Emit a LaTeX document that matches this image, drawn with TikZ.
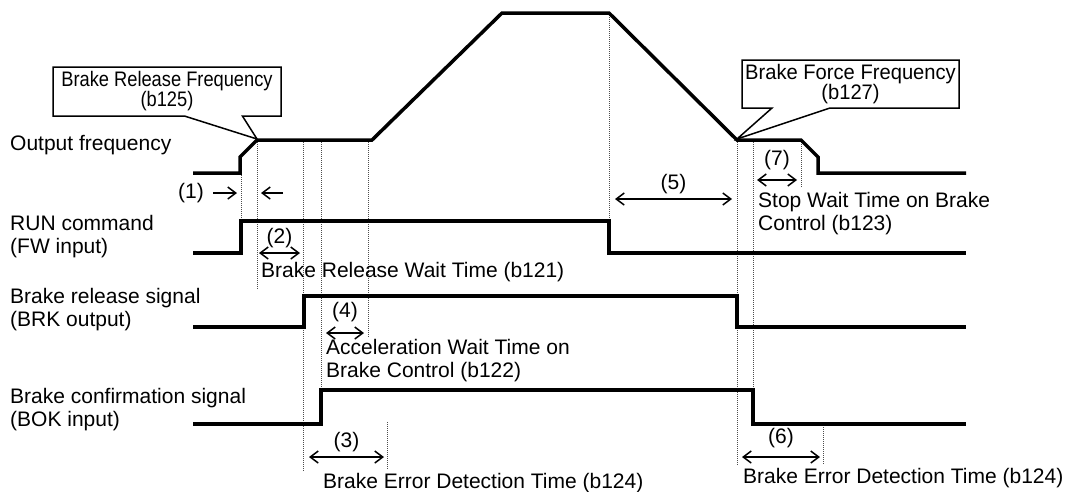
\documentclass[tikz,border=0pt]{standalone}
\usepackage{fontspec}
\setmainfont{Liberation Sans}
\newfontfamily\narrowsf[FakeStretch=0.87]{Liberation Sans}
\newfontfamily\semisf[FakeStretch=0.96]{Liberation Sans}
\usetikzlibrary{arrows.meta,positioning,shapes.callouts}

\begin{document}
\begin{tikzpicture}[
    x=1pt, y=-1pt,
    wave/.style={line width=3.5pt},
    guide/.style={densely dotted, line width=1pt, black!70},
    dim/.style={{Straight Barb[length=8pt,width=12pt]}-{Straight Barb[length=8pt,width=12pt]},
                line width=1.5pt},
    ptr/.style={-{Straight Barb[length=8pt,width=12pt]}, line width=1.5pt},
    txt/.style={font=\fontsize{21}{23}\selectfont, inner sep=0pt, align=left},
    num/.style={font=\fontsize{21}{23}\selectfont, inner sep=1pt},
    note/.style={rectangle callout, draw, line width=1.5pt, fill=white,
                 callout pointer width=58pt, inner sep=0pt, align=center}
]
    \useasboundingbox (0,0) rectangle (1068,491);

    % Callouts
    \node[note, minimum width=228pt, minimum height=49pt,
          font=\narrowsf\fontsize{21}{20}\selectfont,
          callout absolute pointer={(257,139)}] (relfreq) at (167,91.5)
          {Brake Release Frequency\\(b125)};
    \node[note, minimum width=217pt, minimum height=48pt,
          font=\semisf\fontsize{21}{20}\selectfont,
          callout absolute pointer={(737,139)}] (forcefreq) at (850.5,84)
          {Brake Force Frequency\\(b127)};

    % Signal names (base = last line)
    \node[txt, anchor=base west] (lblfreq) at (10,150) {Output frequency};
    \node[txt, anchor=base west] (lblrun) at (10,253) {RUN command\\(FW input)};
    \node[txt, anchor=base west] (lblbrk) at (10,326) {Brake release signal\\(BRK output)};
    \node[txt, anchor=base west] (lblbok) at (10,426) {Brake confirmation signal\\(BOK input)};

    % Timing guides
    \draw[guide] (241,173) -- (241,221);
    \draw[guide] (257,140) -- (257,290);
    \draw[guide] (303,140) -- (303,472);
    \draw[guide] (321,140) -- (321,390);
    \draw[guide] (368,140) -- (368,337);
    \draw[guide] (387,422) -- (387,470);
    \draw[guide] (609,13) -- (609,221);
    \draw[guide] (737,140) -- (737,465);
    \draw[guide] (753,140) -- (753,390);
    \draw[guide] (801,140) -- (801,188);
    \draw[guide] (823,425) -- (823,465);

    % Waveforms
    \draw[wave] (193,173) -- (240,173) -- (240,157) -- (257,140) -- (372,140)
        -- (502,13) -- (609,13) -- (737,140) -- (801,140) -- (818,157)
        -- (818,173) -- (966,173);
    \draw[wave] (193,253) -- (241,253) -- (241,221) -- (609,221) -- (609,253) -- (966,253);
    \draw[wave] (193,327) -- (304,327) -- (304,296) -- (737,296) -- (737,327) -- (966,327);
    \draw[wave] (193,424) -- (321,424) -- (321,390) -- (753,390) -- (753,424) -- (966,424);

    % (1)
    \coordinate (d1a) at (213,193);
    \coordinate (d1b) at (237,193);
    \coordinate (d1c) at (283,193);
    \coordinate (d1d) at (261,193);
    \draw[ptr] (d1a) -- (d1b);
    \draw[ptr] (d1c) -- (d1d);
    \node[num, left=8pt of d1a] (n1) {(1)};

    % (2)
    \coordinate (d2a) at (259,253);
    \coordinate (d2b) at (300,253);
    \draw[dim] (d2a) -- node[num, above=3pt] (n2) {(2)} (d2b);
    \node[txt, anchor=base west] (t121) at (261,277) {Brake Release Wait Time (b121)};

    % (4)
    \coordinate (d4a) at (326,333);
    \coordinate (d4b) at (364,333);
    \draw[dim] (d4a) -- node[num, above=9pt] (n4) {(4)} (d4b);
    \node[txt, anchor=base west] (t122) at (326,377) {Acceleration Wait Time on\\Brake Control (b122)};

    % (3)
    \coordinate (d3a) at (309,457);
    \coordinate (d3b) at (384,457);
    \draw[dim] (d3a) -- node[num, above=3pt] (n3) {(3)} (d3b);
    \node[txt, anchor=base west] (t124a) at (323,488) {Brake Error Detection Time (b124)};

    % (5)
    \coordinate (d5a) at (615,199);
    \coordinate (d5b) at (732,199);
    \draw[dim] (d5a) -- node[num, above=3pt] (n5) {(5)} (d5b);

    % (7)
    \coordinate (d7a) at (757,180);
    \coordinate (d7b) at (797,180);
    \draw[dim] (d7a) -- node[num, above=8pt] (n7) {(7)} (d7b);
    \node[txt, anchor=base west] (t123) at (758,230) {Stop Wait Time on Brake\\Control (b123)};

    % (6)
    \coordinate (d6a) at (742,457);
    \coordinate (d6b) at (820,457);
    \draw[dim] (d6a) -- node[num, above=7pt] (n6) {(6)} (d6b);
    \node[txt, anchor=base west] (t124b) at (743,483) {Brake Error Detection Time (b124)};

\end{tikzpicture}
\end{document}
